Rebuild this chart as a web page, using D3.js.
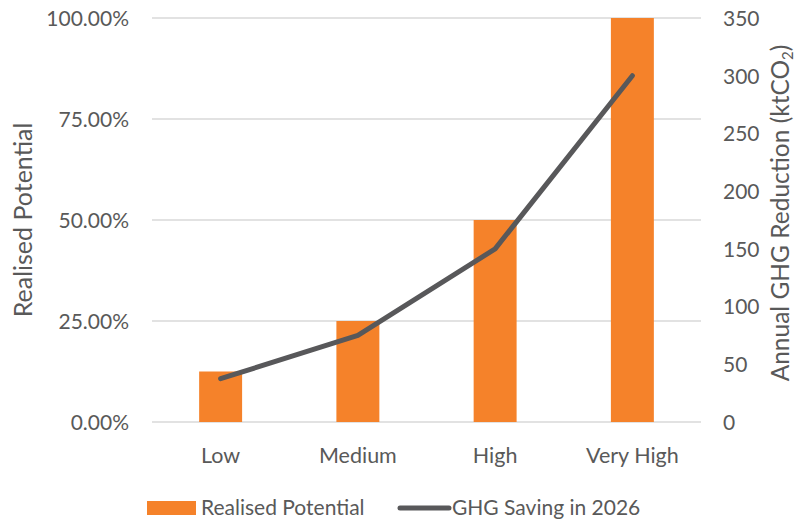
<!DOCTYPE html>
<html>
<head>
<meta charset="utf-8">
<script src="https://cdn.jsdelivr.net/npm/d3@7"></script>
<style>
  html, body { margin: 0; padding: 0; background: #fff; }
  text { font-family: Lato, "Open Sans", sans-serif; fill: #595959; }
</style>
</head>
<body>
<svg id="chart" width="801" height="521"></svg>
<script>
// Categories and series
const categories = ["Low", "Medium", "High", "Very High"];
const realisedPotential = [0.125, 0.25, 0.5, 1.0];
const ghgSaving = [37.5, 75, 150, 300];
const leftTicks = [0, 0.25, 0.5, 0.75, 1.0];
const rightTicks = [0, 50, 100, 150, 200, 250, 300, 350];

const svg = d3.select("#chart");
const plot = { left: 152, right: 701, top: 18, bottom: 422 };
const orange = "#F5822A";
const lineColor = "#58585A";
const tickFont = "21px";

const x = d3.scaleBand()
  .domain(categories)
  .range([plot.left, plot.right])
  .paddingInner(0.687)
  .paddingOuter(0.3435);
const yLeft = d3.scaleLinear().domain([0, 1]).range([plot.bottom, plot.top]);
const yRight = d3.scaleLinear().domain([0, 350]).range([plot.bottom, plot.top]);

// Gridlines
svg.append("g")
  .selectAll("line")
  .data(leftTicks)
  .join("line")
  .attr("x1", plot.left)
  .attr("x2", plot.right)
  .attr("y1", d => yLeft(d))
  .attr("y2", d => yLeft(d))
  .attr("stroke", "#D9D9D9")
  .attr("stroke-width", 1.3);

// Left axis
const leftAxis = svg.append("g")
  .attr("transform", `translate(${plot.left - 23},0)`)
  .call(d3.axisLeft(yLeft).tickValues(leftTicks).tickFormat(d3.format(".2%")).tickSize(0).tickPadding(0));
leftAxis.select(".domain").remove();
leftAxis.selectAll("text").style("font-size", tickFont).attr("dy", "0.35em");

// Right axis
const rightAxis = svg.append("g")
  .attr("transform", `translate(${plot.right + 22},0)`)
  .call(d3.axisRight(yRight).tickValues(rightTicks).tickFormat(d3.format("d")).tickSize(0).tickPadding(0));
rightAxis.select(".domain").remove();
rightAxis.selectAll("text").style("font-size", tickFont).attr("dy", "0.35em");

// Bottom axis labels
const bottomAxis = svg.append("g")
  .attr("transform", `translate(0,${plot.bottom + 33})`)
  .call(d3.axisBottom(x).tickSize(0).tickPadding(0));
bottomAxis.select(".domain").remove();
bottomAxis.selectAll("text").style("font-size", "21.5px").attr("dy", "0.35em");

// Bars
svg.append("g")
  .selectAll("rect")
  .data(categories)
  .join("rect")
  .attr("x", d => x(d))
  .attr("width", x.bandwidth())
  .attr("y", (d, i) => yLeft(realisedPotential[i]))
  .attr("height", (d, i) => yLeft(0) - yLeft(realisedPotential[i]))
  .attr("fill", orange);

// Line series
const line = d3.line()
  .x((d, i) => x(categories[i]) + x.bandwidth() / 2)
  .y(d => yRight(d));
svg.append("path")
  .datum(ghgSaving)
  .attr("d", line)
  .attr("fill", "none")
  .attr("stroke", lineColor)
  .attr("stroke-width", 5)
  .attr("stroke-linecap", "round")
  .attr("stroke-linejoin", "round");

// Axis titles
svg.append("text")
  .attr("transform", "translate(32,220) rotate(-90)")
  .attr("text-anchor", "middle")
  .style("font-size", "25px")
  .text("Realised Potential");

const rt = svg.append("text")
  .attr("transform", "translate(789,213) rotate(-90)")
  .attr("text-anchor", "middle")
  .style("font-size", "24.5px");
rt.append("tspan").text("Annual GHG Reduction (ktCO");
rt.append("tspan").attr("dy", 4).style("font-size", "15px").text("2");
rt.append("tspan").attr("dy", -4).text(")");

// Legend
const legend = svg.append("g");
legend.append("rect")
  .attr("x", 147).attr("y", 501).attr("width", 49).attr("height", 14)
  .attr("fill", orange);
legend.append("text")
  .attr("x", 201).attr("y", 508).attr("dy", "0.35em")
  .style("font-size", tickFont)
  .text("Realised Potential");
legend.append("line")
  .attr("x1", 400).attr("x2", 449).attr("y1", 508).attr("y2", 508)
  .attr("stroke", lineColor).attr("stroke-width", 5).attr("stroke-linecap", "round");
legend.append("text")
  .attr("x", 452).attr("y", 508).attr("dy", "0.35em")
  .style("font-size", tickFont)
  .text("GHG Saving in 2026");
</script>
</body>
</html>
